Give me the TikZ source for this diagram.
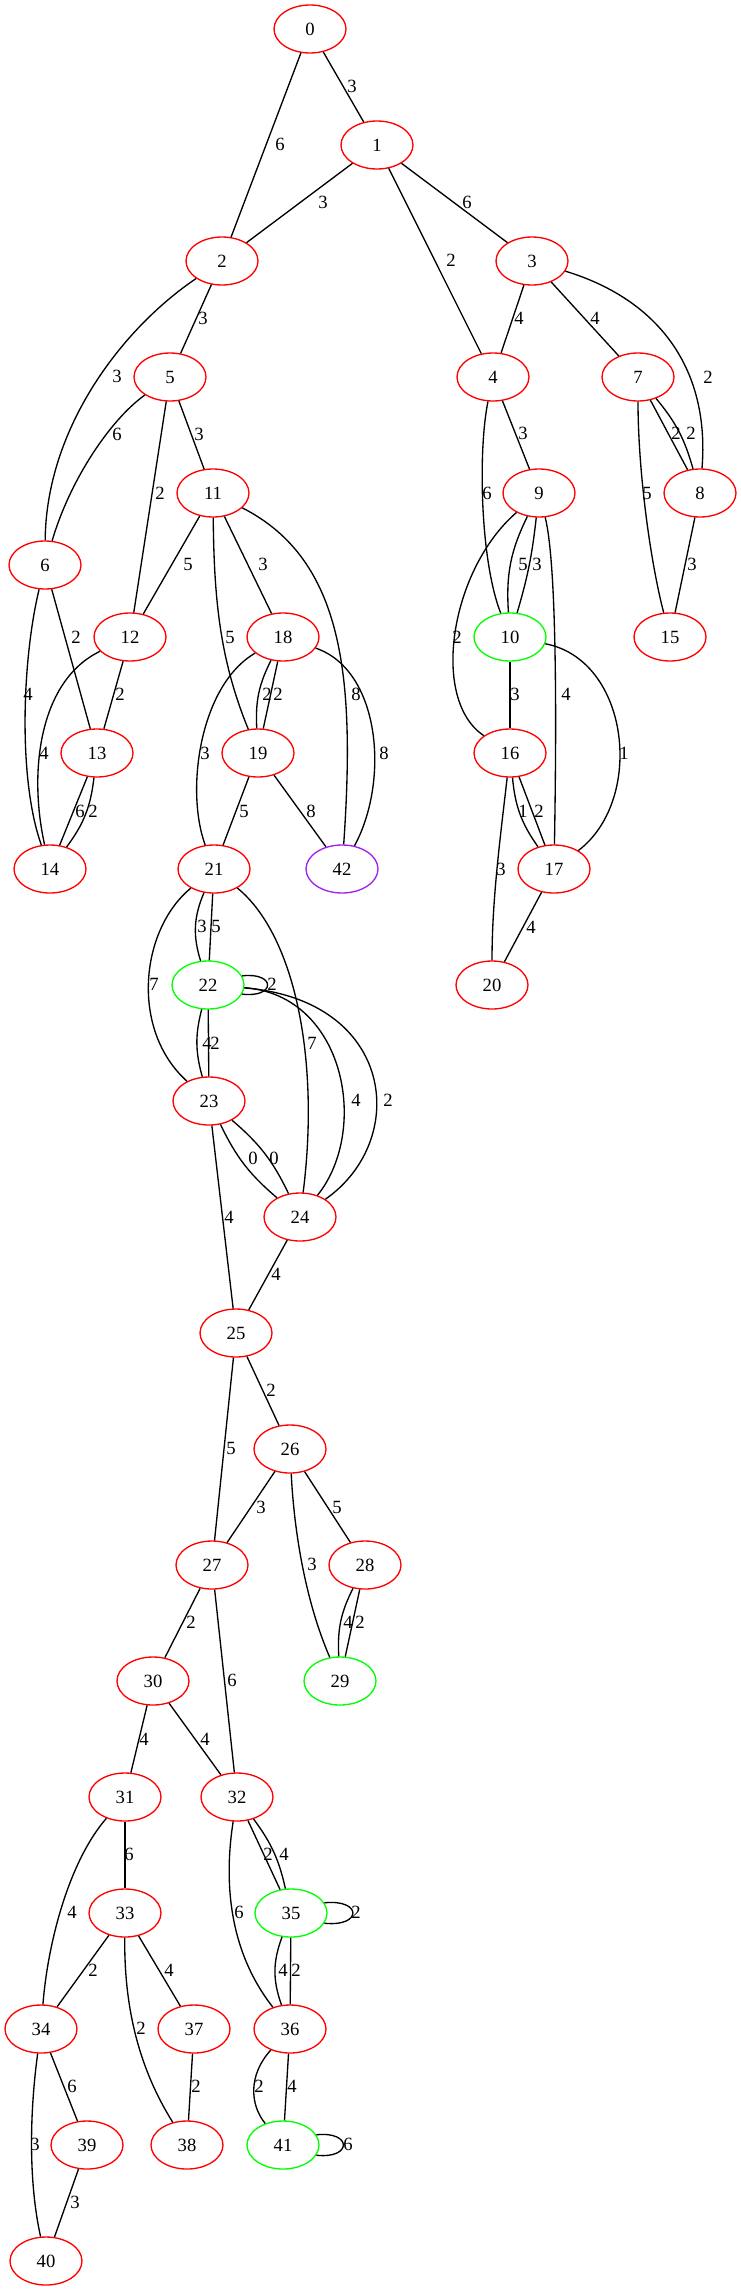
\documentclass[tikz,border=0pt]{standalone}
\usepackage{fontspec}
\setmainfont{Liberation Serif}
\usetikzlibrary{shapes.geometric}
\definecolor{gvred}{HTML}{FF0000}
\definecolor{gvgreen}{HTML}{00FF00}
\definecolor{gvpurple}{HTML}{A020F0}
\begin{document}
\begin{tikzpicture}[x=0.75pt,y=-0.75pt,
  vx/.style={ellipse, draw=gvred, line width=1pt, minimum width=54pt, minimum height=36pt, inner sep=0pt, font=\fontsize{14pt}{16pt}\selectfont},
  gv/.style={vx, draw=gvgreen},
  pv/.style={vx, draw=gvpurple},
  lab/.style={inner sep=0pt, font=\fontsize{14pt}{16pt}\selectfont},
  ed/.style={line width=1pt, black}]
\useasboundingbox (0,0) rectangle (741,2291);
% nodes
\node[vx] (n0) at (310,29) {0};
\node[vx] (n1) at (377,145) {1};
\node[vx] (n2) at (222,261) {2};
\node[vx] (n3) at (532,261) {3};
\node[vx] (n5) at (170,377) {5};
\node[vx] (n4) at (493,377) {4};
\node[vx] (n7) at (638,377) {7};
\node[vx] (n11) at (213,493) {11};
\node[vx] (n9) at (539,493) {9};
\node[vx] (n8) at (700,493) {8};
\node[vx] (n6) at (45,565) {6};
\node[vx] (n12) at (130,637) {12};
\node[vx] (n18) at (283,637) {18};
\node[gv] (n10) at (510,637) {10};
\node[vx] (n15) at (670,637) {15};
\node[vx] (n13) at (97,753) {13};
\node[vx] (n19) at (258,753) {19};
\node[vx] (n16) at (510,753) {16};
\node[vx] (n14) at (50,869) {14};
\node[vx] (n21) at (214,869) {21};
\node[pv] (n42) at (342,869) {42};
\node[vx] (n17) at (554,869) {17};
\node[vx] (n20) at (492,985) {20};
\node[gv] (n22) at (208,985) {22};
\node[vx] (n23) at (209,1101) {23};
\node[vx] (n24) at (300,1217) {24};
\node[vx] (n25) at (236,1333) {25};
\node[vx] (n26) at (290,1449) {26};
\node[vx] (n27) at (212,1565) {27};
\node[vx] (n28) at (365,1565) {28};
\node[vx] (n30) at (153,1681) {30};
\node[gv] (n29) at (340,1681) {29};
\node[vx] (n31) at (125,1797) {31};
\node[vx] (n32) at (237,1797) {32};
\node[vx] (n33) at (125,1913) {33};
\node[gv] (n35) at (291,1913) {35};
\node[vx] (n34) at (41,2029) {34};
\node[vx] (n37) at (194,2029) {37};
\node[vx] (n36) at (290,2029) {36};
\node[vx] (n39) at (87,2145) {39};
\node[vx] (n38) at (187,2145) {38};
\node[gv] (n41) at (283,2145) {41};
\node[vx] (n40) at (46,2261) {40};
% edges
\draw[ed] (n0) -- (n1) node[lab] at (352,86) {3};
\draw[ed] (n0) -- (n2) node[lab] at (280,144) {6};
\draw[ed] (n1) -- (n2) node[lab] at (323,202) {3};
\draw[ed] (n1) -- (n3) node[lab] at (467,202) {6};
\draw[ed] (n1) -- (n4) node[lab] at (451,260) {2};
\draw[ed] (n2) -- (n5) node[lab] at (203,318) {3};
\draw[ed] (n2) .. controls (120,330) and (46,430) .. (n6) node[lab] at (117,376) {3};
\draw[ed] (n3) -- (n4) node[lab] at (519,318) {4};
\draw[ed] (n3) -- (n7) node[lab] at (595,318) {4};
\draw[ed] (n3) .. controls (660,300) and (710,370) .. (n8) node[lab] at (708,377) {2};
\draw[ed] (n5) .. controls (110,420) and (70,480) .. (n6) node[lab] at (117,434) {6};
\draw[ed] (n5) -- (n12) node[lab] at (160,493) {2};
\draw[ed] (n5) -- (n11) node[lab] at (199,434) {3};
\draw[ed] (n4) .. controls (478,450) and (480,560) .. (n10) node[lab] at (487,493) {6};
\draw[ed] (n4) -- (n9) node[lab] at (523,433) {3};
\draw[ed] (n7) -- (n8) node[lab] at (676,433) {2};
\draw[ed] (n7) to[bend left=12] (n8) node[lab] at (691,433) {2};
\draw[ed] (n7) .. controls (638,470) and (650,560) .. (n15) node[lab] at (647,493) {5};
\draw[ed] (n8) -- (n15) node[lab] at (692,564) {3};
\draw[ed] (n11) -- (n12) node[lab] at (188,564) {5};
\draw[ed] (n11) -- (n18) node[lab] at (263,564) {3};
\draw[ed] (n11) .. controls (214,600) and (220,660) .. (n19) node[lab] at (230,637) {5};
\draw[ed] (n11) .. controls (345,560) and (355,680) .. (n42) node[lab] at (356,694) {8};
\draw[ed] (n6) .. controls (22,660) and (18,780) .. (n14) node[lab] at (28,694) {4};
\draw[ed] (n6) -- (n13) node[lab] at (76,637) {2};
\draw[ed] (n12) .. controls (40,680) and (28,770) .. (n14) node[lab] at (44,753) {4};
\draw[ed] (n12) -- (n13) node[lab] at (120,694) {2};
\draw[ed] (n18) to[bend right=15] (n19) node[lab] at (267,694) {2};
\draw[ed] (n18) -- (n19) node[lab] at (278,694) {2};
\draw[ed] (n18) .. controls (200,685) and (185,790) .. (n21) node[lab] at (205,753) {3};
\draw[ed] (n18) .. controls (380,670) and (390,780) .. (n42) node[lab] at (384,753) {8};
\draw[ed] (n9) to[bend right=15] (n10) node[lab] at (523,564) {5};
\draw[ed] (n9) to[bend left=5] (n10) node[lab] at (537,564) {3};
\draw[ed] (n9) .. controls (450,570) and (430,700) .. (n16) node[lab] at (457,637) {2};
\draw[ed] (n9) .. controls (556,560) and (557,700) .. (n17) node[lab] at (566,694) {4};
\draw[ed] (n10) -- (n16) node[lab] at (515,694) {3};
\draw[ed] (n10) .. controls (630,660) and (645,800) .. (n17) node[lab] at (624,753) {1};
\draw[ed] (n13) -- (n14) node[lab] at (80,811) {6};
\draw[ed] (n13) to[bend left=15] (n14) node[lab] at (93,811) {2};
\draw[ed] (n19) -- (n21) node[lab] at (244,811) {5};
\draw[ed] (n19) -- (n42) node[lab] at (311,811) {8};
\draw[ed] (n16) to[bend right=15] (n17) node[lab] at (523,811) {1};
\draw[ed] (n16) -- (n17) node[lab] at (539,811) {2};
\draw[ed] (n16) .. controls (500,840) and (492,900) .. (n20) node[lab] at (501,869) {3};
\draw[ed] (n17) -- (n20) node[lab] at (531,927) {4};
\draw[ed] (n21) to[bend right=20] (n22) node[lab] at (202,926) {3};
\draw[ed] (n21) -- (n22) node[lab] at (216,926) {5};
\draw[ed] (n21) .. controls (140,930) and (130,1030) .. (n23) node[lab] at (154,984) {7};
\draw[ed] (n21) .. controls (295,935) and (320,1060) .. (n24) node[lab] at (312,1043) {7};
\draw[ed] (n22.15) .. controls +(34,-4) and +(34,4) .. (n22.-15) node[lab] at (272,984) {2};
\draw[ed] (n22) to[bend right=15] (n23) node[lab] at (207,1043) {4};
\draw[ed] (n22) -- (n23) node[lab] at (215,1043) {2};
\draw[ed] (n22) .. controls (345,995) and (370,1130) .. (n24) node[lab] at (356,1100) {4};
\draw[ed] (n22) .. controls (395,1000) and (410,1140) .. (n24) node[lab] at (388,1100) {2};
\draw[ed] (n23) to[bend right=12] (n24) node[lab] at (253,1158) {0};
\draw[ed] (n23) to[bend left=12] (n24) node[lab] at (274,1158) {0};
\draw[ed] (n23) -- (n25) node[lab] at (229,1217) {4};
\draw[ed] (n24) -- (n25) node[lab] at (276,1274) {4};
\draw[ed] (n25) -- (n27) node[lab] at (231,1448) {5};
\draw[ed] (n25) -- (n26) node[lab] at (271,1390) {2};
\draw[ed] (n26) -- (n27) node[lab] at (261,1507) {3};
\draw[ed] (n26) .. controls (294,1530) and (305,1600) .. (n29) node[lab] at (312,1564) {3};
\draw[ed] (n26) -- (n28) node[lab] at (337,1507) {5};
\draw[ed] (n27) -- (n30) node[lab] at (191,1622) {2};
\draw[ed] (n27) -- (n32) node[lab] at (232,1680) {6};
\draw[ed] (n28) to[bend right=15] (n29) node[lab] at (348,1622) {4};
\draw[ed] (n28) -- (n29) node[lab] at (360,1622) {2};
\draw[ed] (n30) -- (n31) node[lab] at (144,1739) {4};
\draw[ed] (n30) -- (n32) node[lab] at (205,1739) {4};
\draw[ed] (n31) -- (n33) node[lab] at (129,1854) {6};
\draw[ed] (n31) .. controls (70,1860) and (48,1940) .. (n34) node[lab] at (72,1912) {4};
\draw[ed] (n32) -- (n35) node[lab] at (268,1854) {2};
\draw[ed] (n32) to[bend left=12] (n35) node[lab] at (284,1854) {4};
\draw[ed] (n32) .. controls (224,1880) and (228,1950) .. (n36) node[lab] at (239,1912) {6};
\draw[ed] (n35.17) .. controls +(38,-4) and +(38,4) .. (n35.-17) node[lab] at (356,1912) {2};
\draw[ed] (n35) to[bend right=20] (n36) node[lab] at (283,1970) {4};
\draw[ed] (n35) -- (n36) node[lab] at (296,1970) {2};
\draw[ed] (n33) -- (n34) node[lab] at (93,1970) {2};
\draw[ed] (n33) .. controls (124,2010) and (140,2070) .. (n38) node[lab] at (141,2028) {2};
\draw[ed] (n33) -- (n37) node[lab] at (169,1970) {4};
\draw[ed] (n34) -- (n39) node[lab] at (72,2086) {6};
\draw[ed] (n34) .. controls (30,2110) and (28,2180) .. (n40) node[lab] at (35,2144) {3};
\draw[ed] (n37) -- (n38) node[lab] at (196,2086) {2};
\draw[ed] (n36) .. controls (248,2075) and (250,2105) .. (n41) node[lab] at (259,2086) {2};
\draw[ed] (n36) -- (n41) node[lab] at (292,2086) {4};
\draw[ed] (n39) -- (n40) node[lab] at (75,2202) {3};
\draw[ed] (n41.17) .. controls +(36,-4) and +(36,4) .. (n41.-17) node[lab] at (348,2144) {6};
\end{tikzpicture}
\end{document}
